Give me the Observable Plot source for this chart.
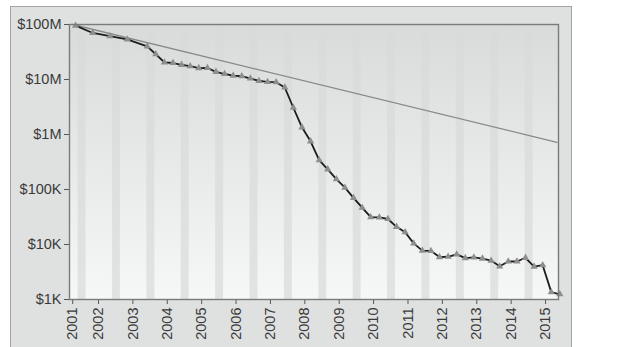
<!DOCTYPE html>
<html>
<head>
<meta charset="utf-8">
<script src="https://cdn.jsdelivr.net/npm/d3@7"></script>
<script src="https://cdn.jsdelivr.net/npm/@observablehq/plot@0.6"></script>
<style>
  html, body { margin: 0; padding: 0; background: #ffffff; overflow: hidden; }
  #box { position: absolute; left: 10px; top: 6px; width: 562px; height: 360px;
         background: #dfe1e1; border: 1px solid #a3a5a5; box-sizing: border-box; }
  #chart { position: absolute; left: 0; top: 0; }
</style>
</head>
<body>
<div id="box"></div>
<div id="chart"></div>
<script>
// Sequencing cost per genome (USD), sampling dates
const dates = [
  "2001-09","2002-03","2002-09","2003-03","2003-10",
  "2004-01","2004-04","2004-07","2004-10",
  "2005-01","2005-04","2005-07","2005-10",
  "2006-01","2006-04","2006-07","2006-10",
  "2007-01","2007-04","2007-07","2007-10",
  "2008-01","2008-04","2008-07","2008-10",
  "2009-01","2009-04","2009-07","2009-10",
  "2010-01","2010-04","2010-07","2010-10",
  "2011-01","2011-04","2011-07","2011-10",
  "2012-01","2012-04","2012-07","2012-10",
  "2013-01","2013-04","2013-07","2013-10",
  "2014-01","2014-04","2014-07","2014-10",
  "2015-01","2015-04","2015-07","2015-10"
];
const costs = [
  95263072, 70175437, 61448422, 53751684, 40157554,
  28780376, 20442576, 19934346, 18519312,
  17534970, 16159699, 16180224, 13801124,
  12585659, 11732535, 11455315, 10474556,
  9408739, 9047003, 8927342, 7147571,
  3063820, 1352982, 752080, 342502,
  232735, 154714, 108065, 70333,
  46774, 31512, 31125, 29092,
  20963, 16712, 10497, 7743,
  7666, 5901, 5985, 6618,
  5671, 5827, 5550, 5096,
  4008, 4920, 4905, 5731,
  3970, 4211, 1363, 1245
];
// Moore's law reference line (start / end)
const mooreDates = ["2001-08", "2015-09"];
const mooreCosts = [100000000, 720000];

// Axis ticks
const yTicks = [1e3, 1e4, 1e5, 1e6, 1e7, 1e8];
const yTickLabels = ["$1K", "$10K", "$100K", "$1M", "$10M", "$100M"];
const xTickDates = ["2001-08","2002-05","2003-05","2004-05","2005-05","2006-05","2007-05",
                    "2008-05","2009-05","2010-05","2011-05","2012-05","2013-05","2014-05","2015-05"];
const xTickLabels = ["2001","2002","2003","2004","2005","2006","2007",
                     "2008","2009","2010","2011","2012","2013","2014","2015"];
// years carrying a shaded (Q4) band
const bandYears = [2001,2002,2003,2004,2005,2006,2007,2008,2009,2010,2011,2012,2013,2014];

const dec = s => { const [y, m] = s.split("-").map(Number); return y + (m - 1) / 12; };

const data = dates.map((d, i) => ({t: dec(d), cost: costs[i]}));
const moore = mooreDates.map((d, i) => ({t: dec(d), cost: mooreCosts[i]}));
const xTicks = xTickDates.map(dec);
const bands = bandYears.map(y => ({a: y + 0.74, b: y + 0.97}));

const plot = Plot.plot({
  width: 644,
  height: 347,
  marginLeft: 69,
  marginRight: 86,
  marginTop: 24,
  marginBottom: 48,
  style: {background: "transparent", fontFamily: "'Liberation Sans', Arial, sans-serif", fontSize: "14.5px", color: "#3a3a3a"},
  x: {
    type: "linear",
    domain: [2001.49, 2015.71],
    ticks: xTicks,
    tickFormat: d => xTickLabels[xTicks.indexOf(d)],
    tickRotate: -90,
    tickSize: 5,
    tickPadding: 3,
    label: null
  },
  y: {
    type: "log",
    domain: [1e3, 1e8],
    ticks: yTicks,
    tickFormat: d => yTickLabels[yTicks.indexOf(d)],
    tickSize: 5,
    tickPadding: 3,
    label: null
  },
  marks: [
    Plot.frame({fill: "#ebecec", stroke: null}),
    Plot.rect(bands, {x1: "a", x2: "b", fill: "#d9dada", fillOpacity: 0.7}),
    Plot.line(moore, {x: "t", y: "cost", stroke: "#888888", strokeWidth: 1.3}),
    Plot.line(data, {x: "t", y: "cost", stroke: "#1c1c1c", strokeWidth: 1.8}),
    Plot.dot(data, {x: "t", y: "cost", symbol: "triangle", r: 2.7, fill: "#8e8e8e", stroke: null}),
    Plot.frame({stroke: "#7a7a7a", strokeWidth: 1.4})
  ]
});

// vertical background gradient for the plotting area
const svg = d3.select(plot);
const grad = svg.insert("defs", ":first-child").append("linearGradient")
  .attr("id", "bgGrad").attr("x1", 0).attr("x2", 0).attr("y1", 0).attr("y2", 1);
grad.append("stop").attr("offset", "0%").attr("stop-color", "#d9dbdb");
grad.append("stop").attr("offset", "100%").attr("stop-color", "#f6f7f7");
const fr = plot.querySelector('[aria-label="frame"]');
if (fr) {
  const r = fr.tagName.toLowerCase() === "rect" ? fr : fr.querySelector("rect");
  if (r) r.setAttribute("fill", "url(#bgGrad)");
}
svg.selectAll('[aria-label="x-axis tick"], [aria-label="y-axis tick"]').attr("stroke", "#555");

document.getElementById("chart").appendChild(plot);
</script>
</body>
</html>
